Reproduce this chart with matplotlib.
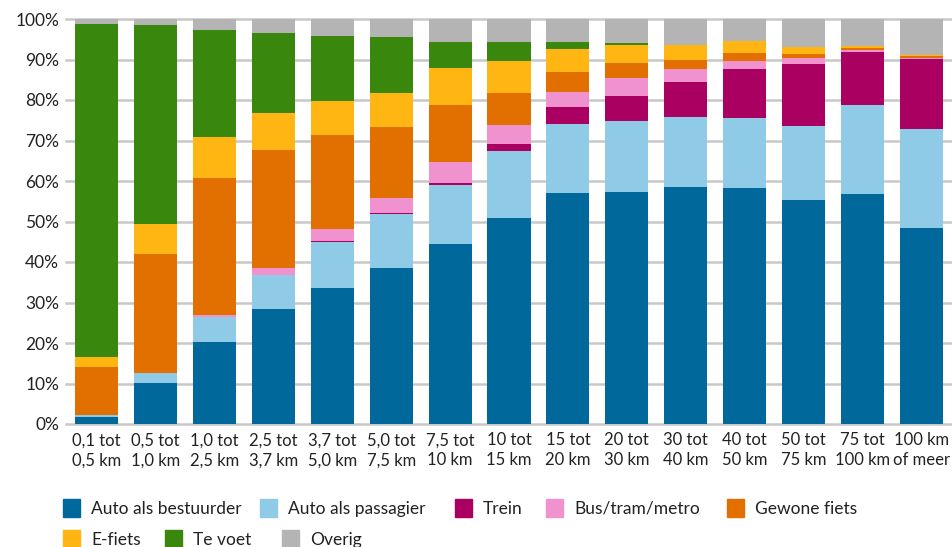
import numpy as np
import matplotlib.pyplot as plt
from matplotlib.patches import Rectangle
from matplotlib.ticker import FuncFormatter

plt.rcParams['font.family'] = ['Lato', 'DejaVu Sans']
plt.rcParams['font.size'] = 12.5

# afstandsklassen
categories = ['0,1 tot\n0,5 km', '0,5 tot\n1,0 km', '1,0 tot\n2,5 km', '2,5 tot\n3,7 km',
              '3,7 tot\n5,0 km', '5,0 tot\n7,5 km', '7,5 tot\n10 km', '10 tot\n15 km',
              '15 tot\n20 km', '20 tot\n30 km', '30 tot\n40 km', '40 tot\n50 km',
              '50 tot\n75 km', '75 tot\n100 km', '100 km\nof meer']

# aandeel per vervoerwijze (%)
auto_bestuurder = [1.8, 10.1, 20.2, 28.4, 33.6, 38.5, 44.4, 50.9, 57.0, 57.3, 58.5, 58.3, 55.3, 56.8, 48.4]
auto_passagier = [0.4, 2.5, 6.2, 8.3, 11.4, 13.4, 14.6, 16.5, 17.1, 17.5, 17.3, 17.3, 18.3, 22.0, 24.4]
trein = [0.0, 0.0, 0.0, 0.0, 0.3, 0.3, 0.5, 1.7, 4.2, 6.2, 8.6, 12.1, 15.3, 13.1, 17.3]
bus_tram_metro = [0.0, 0.0, 0.5, 1.8, 2.8, 3.6, 5.2, 4.7, 3.7, 4.4, 3.3, 1.9, 1.5, 0.4, 0.3]
gewone_fiets = [11.9, 29.4, 33.8, 29.2, 23.3, 17.5, 14.1, 7.9, 4.9, 3.7, 2.2, 2.0, 1.0, 0.5, 0.5]
e_fiets = [2.5, 7.4, 10.2, 9.1, 8.4, 8.4, 9.1, 7.9, 5.7, 4.5, 3.7, 3.0, 1.8, 0.6, 0.2]
te_voet = [82.2, 49.0, 26.4, 19.7, 16.0, 13.9, 6.4, 4.7, 1.7, 0.5, 0.0, 0.0, 0.0, 0.0, 0.0]
overig = [1.2, 1.6, 2.7, 3.5, 4.2, 4.4, 5.7, 5.7, 5.7, 5.9, 6.4, 5.4, 6.8, 6.6, 8.9]

series = [auto_bestuurder, auto_passagier, trein, bus_tram_metro, gewone_fiets, e_fiets, te_voet, overig]
labels = ['Auto als bestuurder', 'Auto als passagier', 'Trein', 'Bus/tram/metro',
          'Gewone fiets', 'E-fiets', 'Te voet', 'Overig']
colors = ['#01689B', '#8FCAE7', '#A90061', '#F092CD', '#E17000', '#FFB612', '#39870C', '#B4B4B4']

W, H = 952, 547
fig = plt.figure(figsize=(W / 100, H / 100), dpi=100)
ax = fig.add_axes([66 / W, 1 - 424 / H, (W - 66) / W, 405 / H])

x = np.arange(len(categories))
bottom = np.zeros(len(categories))
for vals, lab, col in zip(series, labels, colors):
    vals = np.array(vals)
    ax.bar(x, vals, bottom=bottom, width=0.73, color=col, label=lab, zorder=3)
    bottom += vals

ax.set_xlim(-0.52, len(categories) - 0.48)
ax.set_ylim(0, 100)
ax.set_yticks(np.arange(0, 101, 10))
ax.yaxis.set_major_formatter(FuncFormatter(lambda v, p: f'{int(v)}%'))
ax.set_xticks(x)
ax.set_xticklabels(categories, linespacing=1.3)
ax.tick_params(axis='both', length=0, colors='#222222')
ax.tick_params(axis='y', pad=5, labelsize=12.5)
ax.tick_params(axis='x', pad=6, labelsize=12)
for s in ax.spines.values():
    s.set_visible(False)
ax.grid(axis='y', color='#c8c8c8', linewidth=1.8, zorder=0)
for gl in ax.get_ygridlines():
    gl.set_clip_on(False)

# legenda (handmatig, zoals in het origineel)
leg_x = [63, 260, 455, 546, 727, 63, 165, 282]
leg_y = [508, 508, 508, 508, 508, 539, 539, 539]
for lab, col, lx, ly in zip(labels, colors, leg_x, leg_y):
    fig.add_artist(Rectangle((lx / W, 1 - (ly + 9) / H), 17 / W, 18 / H,
                             transform=fig.transFigure, color=col))
    fig.text((lx + 28) / W, 1 - (ly + 1) / H, lab, va='center', ha='left', color='#222222', fontsize=12.5)

fig.savefig('out.png', dpi=100)
